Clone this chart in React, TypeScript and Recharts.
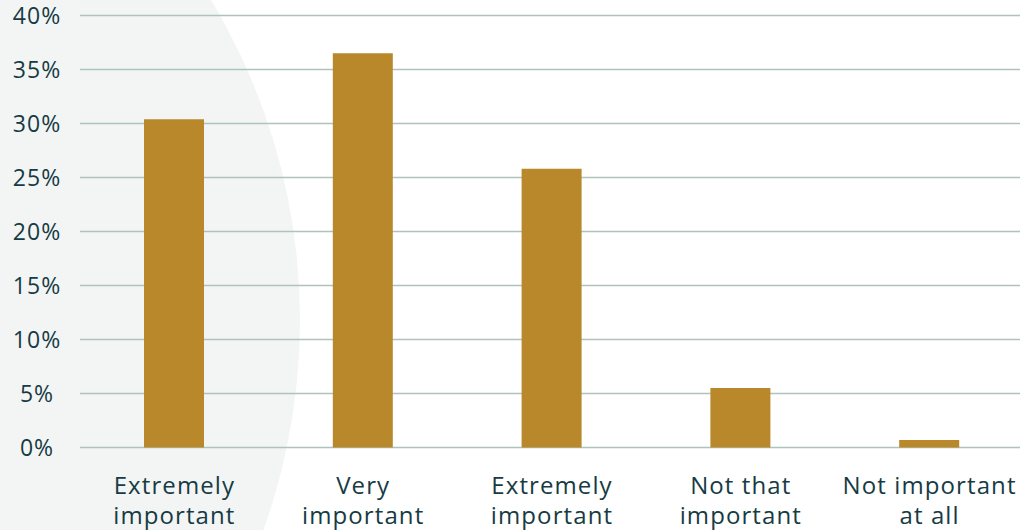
import { BarChart, Bar, XAxis, YAxis, CartesianGrid } from 'recharts';

const CATEGORIES = [
  'Extremely\nimportant',
  'Very\nimportant',
  'Extremely\nimportant',
  'Not that\nimportant',
  'Not important\nat all',
];
const SHARES = [30.4, 36.5, 25.8, 5.5, 0.7];
const Y_TICKS = [0, 5, 10, 15, 20, 25, 30, 35, 40];

const TEXT = '#173b44';
const GOLD = '#b8882b';
const GRID = '#aec3bd';
const FONT = '"Open Sans", sans-serif';

const data = CATEGORIES.map((label, i) => ({ label, share: SHARES[i] }));

function CategoryTick({ x, y, payload }: any) {
  const lines = String(payload.value).split('\n');
  return (
    <text
      x={x}
      y={y}
      textAnchor="middle"
      fill={TEXT}
      fontFamily={FONT}
      fontSize={24}
      letterSpacing={1.1}
    >
      {lines.map((line, i) => (
        <tspan key={i} x={x} dy={i === 0 ? 38 : 30}>
          {line}
        </tspan>
      ))}
    </text>
  );
}

function PercentTick({ y, payload }: any) {
  return (
    <text
      x={37}
      y={y}
      dy={8}
      textAnchor="middle"
      fill={TEXT}
      fontFamily={FONT}
      fontSize={23}
      letterSpacing={1}
    >
      {payload.value}%
    </text>
  );
}

export default function App() {
  return (
    <div
      style={{
        position: 'absolute',
        left: 0,
        top: 0,
        width: 1020,
        height: 530,
        overflow: 'hidden',
        background: '#ffffff',
      }}
    >
      {/* soft backdrop disc on the left */}
      <div
        style={{
          position: 'absolute',
          left: -940,
          top: -300,
          width: 1240,
          height: 1240,
          borderRadius: '50%',
          background: '#f3f5f4',
        }}
      />
      <div style={{ position: 'absolute', left: 0, top: 0 }}>
        <BarChart
          width={1024}
          height={530}
          data={data}
          margin={{ top: 15.5, right: 0, bottom: 0, left: 0 }}
        >
          <CartesianGrid vertical={false} stroke={GRID} strokeWidth={1.5} />
          <XAxis
            dataKey="label"
            axisLine={false}
            tickLine={false}
            height={82.5}
            interval={0}
            tick={<CategoryTick />}
          />
          <YAxis
            width={80}
            domain={[0, 40]}
            ticks={Y_TICKS}
            axisLine={false}
            tickLine={false}
            tick={<PercentTick />}
          />
          <Bar dataKey="share" fill={GOLD} barSize={60} isAnimationActive={false} />
        </BarChart>
      </div>
    </div>
  );
}
